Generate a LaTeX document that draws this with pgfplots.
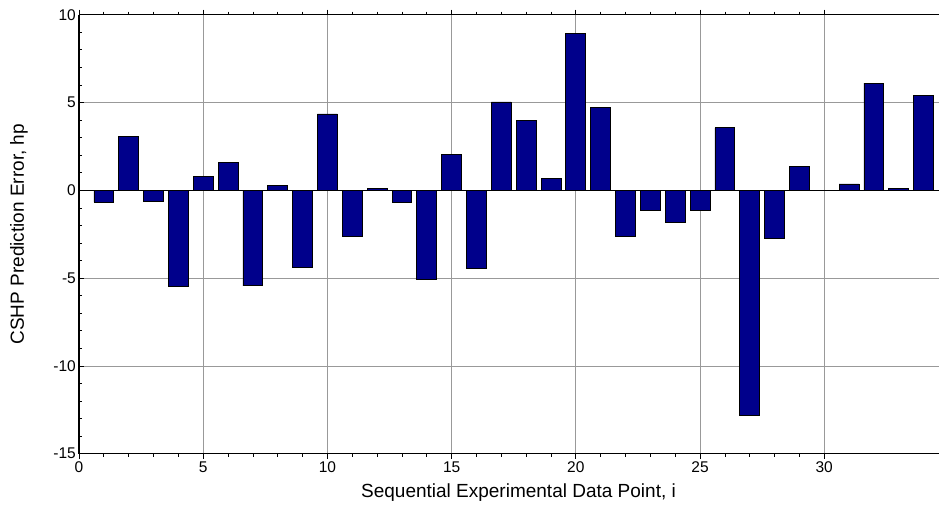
\documentclass[border=0pt]{standalone}
\usepackage{fontspec}
\setmainfont{Liberation Sans}
\usepackage{pgfplots}
\pgfplotsset{compat=1.18}
\definecolor{barblue}{RGB}{0,0,139}
\begin{document}
\begin{tikzpicture}
\begin{axis}[
  name=ax,
  scale only axis,
  width=860pt, height=439pt,
  xmin=0, xmax=34.62, ymin=-15, ymax=10,
  axis x line=box, axis y line=left,
  axis line style={-, line width=1.3pt, black},
  tick align=inside,
  xtick={0,5,...,30}, ytick={-15,-10,...,10},
  minor x tick num=4, minor y tick num=4,
  major tick length=5pt, minor tick length=3pt,
  every tick/.style={black, line width=0.7pt},
  grid=major,
  major grid style={line width=0.8pt, color=black!40},
  extra y ticks={0}, extra y tick labels={},
  extra y tick style={major grid style={line width=1pt, color=black}, major tick length=0pt},
  /pgf/number format/assume math mode=true,
  ticklabel style={font=\fontsize{15.5}{18}\selectfont},
  xticklabel style={anchor=north, inner sep=0pt, yshift=-2.5pt},
  yticklabel style={anchor=east, inner sep=0pt, xshift=-3pt},
  xlabel={Sequential Experimental Data Point, i},
  ylabel={CSHP Prediction Error, hp},
  label style={font=\fontsize{19}{22}\selectfont},
  xlabel style={at={(axis description cs:0.5,0)}, anchor=base, inner sep=0pt, yshift=-43.5pt, xshift=9.5pt},
  ylabel style={at={(axis description cs:-0.0698,0.5)}, anchor=center, rotate=0, inner sep=0pt},
  ybar, bar width=0.8,
]
\addplot[fill=barblue, draw=black, line width=0.8pt] coordinates {
(1,-0.68) (2,3.05) (3,-0.65) (4,-5.48) (5,0.81) (6,1.57) (7,-5.44) (8,0.28)
(9,-4.38) (10,4.35) (11,-2.6) (12,0.09) (13,-0.68) (14,-5.08) (15,2.05) (16,-4.43)
(17,5.03) (18,3.99) (19,0.68) (20,8.94) (21,4.72) (22,-2.6) (23,-1.16) (24,-1.8)
(25,-1.16) (26,3.56) (27,-12.82) (28,-2.75) (29,1.38) (30,0.01) (31,0.36) (32,6.11)
(33,0.11) (34,5.41)
};
\end{axis}
\pgfresetboundingbox
\path[use as bounding box] ([shift={(-79pt,-52.5pt)}]ax.south west) rectangle ([shift={(0pt,14.7pt)}]ax.north east);
\end{tikzpicture}
\end{document}
